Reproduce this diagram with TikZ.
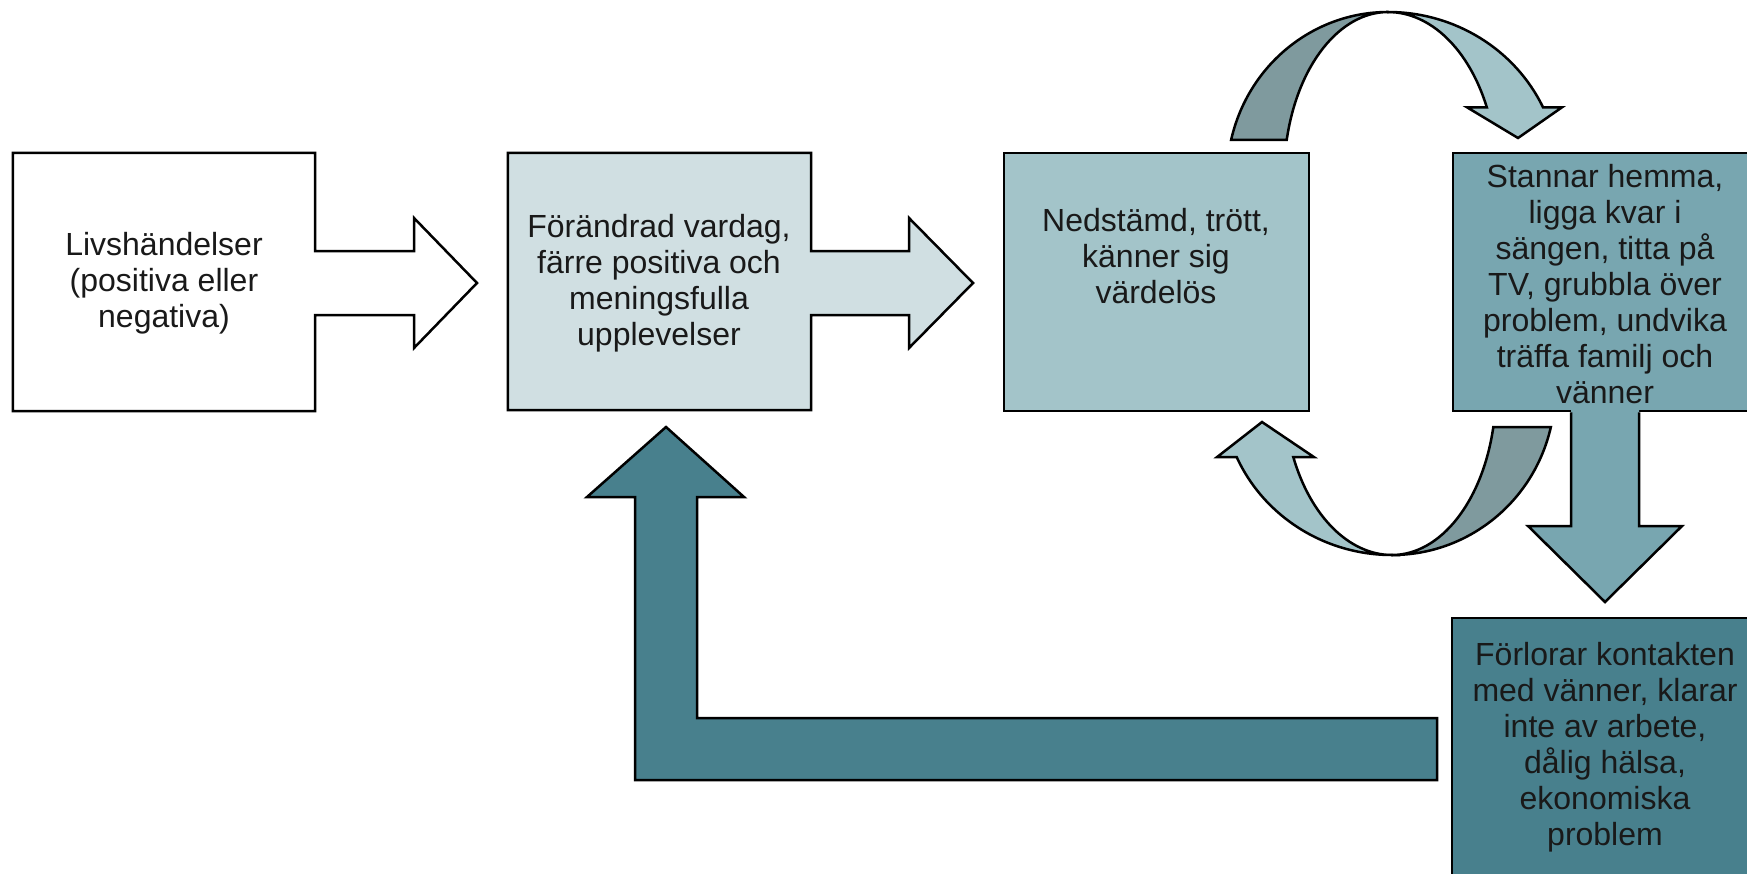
\documentclass[tikz,border=0pt]{standalone}
\usepackage{fontspec}
\setmainfont{Liberation Sans}
\usetikzlibrary{backgrounds,calc}
\definecolor{cw}{HTML}{FFFFFF}
\definecolor{c2}{HTML}{D0DFE2}
\definecolor{c3}{HTML}{A3C4C9}
\definecolor{c4}{HTML}{78A6B0}
\definecolor{c5}{HTML}{48808D}
\definecolor{cg}{HTML}{7F9A9E}
\begin{document}
\begin{tikzpicture}[x=1pt,y=-1pt,
  outl/.style={draw=black,line width=2.5pt,line join=miter},
  txt/.style={align=center,font=\fontsize{32}{36}\selectfont,inner sep=0pt,text=black!90},
  boxnode/.style={rectangle,inner sep=0pt}]
\useasboundingbox (0,0) rectangle (1747,873);
\clip (0,0) rectangle (1747,873);

% box frames (named nodes)
\node[boxnode,minimum width=302pt,minimum height=258pt] (b1) at (164,282) {};
\node[boxnode,minimum width=303pt,minimum height=257pt] (b2) at (659.5,281.5) {};
\node[boxnode,outl,fill=c3,minimum width=305pt,minimum height=258pt] (b3) at (1156.5,282) {};
\node[boxnode,outl,fill=c4,minimum width=304pt,minimum height=258pt] (b4) at (1605,282) {};
\node[boxnode,outl,fill=c5,minimum width=306pt,minimum height=290pt] (b5) at (1605,763) {};

% box 1 with its arrow
\draw[outl,fill=cw] (b1.north west) -- (b1.north east) -- (b1.north east |- 0,251)
  -- (414,251) -- (414,218) -- (477,283) -- (414,348) -- (414,315)
  -- (b1.south east |- 0,315) -- (b1.south east) -- (b1.south west) -- cycle;
% box 2 with its arrow
\draw[outl,fill=c2] (b2.north west) -- (b2.north east) -- (b2.north east |- 0,251)
  -- (909,251) -- (909,218) -- (973,283) -- (909,348) -- (909,315)
  -- (b2.south east |- 0,315) -- (b2.south east) -- (b2.south west) -- cycle;

% down arrow b4 -> b5
\coordinate (dA) at (b4.south -| 1571,0);
\coordinate (dB) at (b4.south -| 1639,0);
\fill[c4] ($(dA)+(0,-4)$) -- (1571,526) -- (1528,526) -- (b5.north |- 0,602) -- (1682,526) -- (1639,526) -- ($(dB)+(0,-4)$) -- cycle;
\draw[outl] (dA) -- (1571,526) -- (1528,526) -- (b5.north |- 0,602) -- (1682,526) -- (1639,526) -- (dB);

% return arrow b5 -> b2
\coordinate (rA) at (1437,718);
\coordinate (rT) at (666,427);
\draw[outl,fill=c5] (rA) -- (697,718) -- (697,497) -- (744,497) -- (rT) -- (587,497)
  -- (635,497) -- (635,780) -- (1437,780) -- cycle;

% top loop: b3 -> b4
\coordinate (topapex) at (1388,12);
\draw[outl,fill=cg] (topapex) arc[start angle=90,end angle=167,x radius=161pt,y radius=165pt]
  -- (1286.7,139.9) arc[start angle=167,end angle=90,x radius=104pt,y radius=165pt] -- cycle;
\draw[outl,fill=c3] (topapex) arc[start angle=90,end angle=25,x radius=171pt,y radius=165pt]
  -- (1562,107.3) -- (1518,138) -- (1467,107.3)
  -- (1486.8,107.3) arc[start angle=25,end angle=90,x radius=109pt,y radius=165pt] -- cycle;

% bottom loop: b4 -> b3
\coordinate (botapex) at (1392,555);
\draw[outl,fill=cg] (botapex) arc[start angle=270,end angle=347,x radius=163pt,y radius=165pt]
  -- (1493.3,427.1) arc[start angle=347,end angle=270,x radius=104pt,y radius=165pt] -- cycle;
\draw[outl,fill=c3] (botapex) arc[start angle=270,end angle=204,x radius=170pt,y radius=165pt]
  -- (1217,457.1) -- (1262,422) -- (1314,457.1)
  -- (1293.3,457.1) arc[start angle=204,end angle=270,x radius=108pt,y radius=165pt] -- cycle;

% texts
\node[txt] (t1) at (164,283) {Livshändelser\\(positiva eller\\negativa)};
\node[txt] (t2) at (659,283) {Förändrad vardag,\\färre positiva och\\meningsfulla\\upplevelser};
\node[txt] (t3) at (1156,256) {Nedstämd, trött,\\känner sig\\värdelös};
\node[txt] (t4) at (1605,284) {Stannar hemma,\\ligga kvar i\\sängen, titta på\\TV, grubbla över\\problem, undvika\\träffa familj och\\vänner};
\node[txt] (t5) at (1605,747) {Förlorar kontakten\\med vänner, klarar\\inte av arbete,\\dålig hälsa,\\ekonomiska\\problem};
\end{tikzpicture}
\end{document}
